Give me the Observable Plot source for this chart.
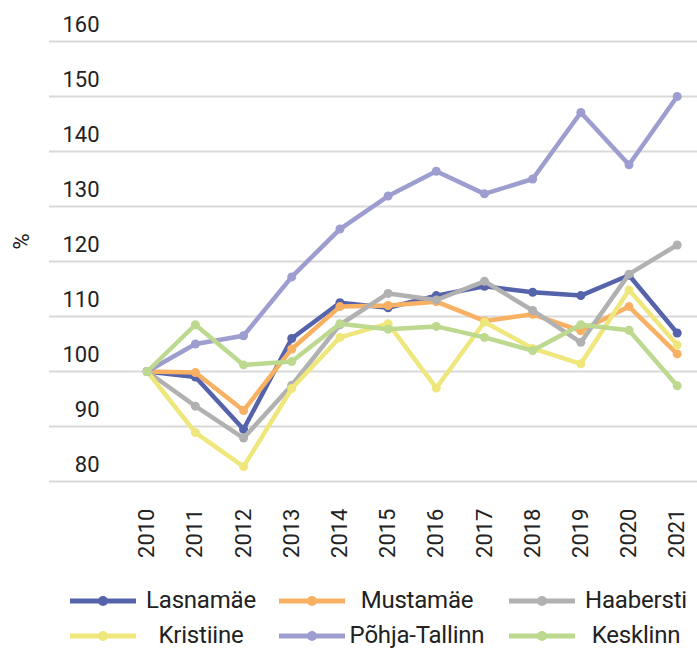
<!DOCTYPE html>
<html>
<head>
<meta charset="utf-8">
<script src="https://cdn.jsdelivr.net/npm/d3@7"></script>
<script src="https://cdn.jsdelivr.net/npm/@observablehq/plot@0.6"></script>
<style>
  html, body { margin: 0; padding: 0; background: #fff; }
  body { width: 697px; height: 648px; overflow: hidden; font-family: Roboto, "Noto Sans", sans-serif; color: #222; }
  #chart svg { display: block; }
  #legend { position: relative; width: 697px; height: 65px; }
  .item { position: absolute; height: 35px; display: flex; align-items: center; }
  .item svg { display: block; flex: none; }
  .item span { display: block; text-align: center; font-size: 24px; line-height: 35px; white-space: nowrap; letter-spacing: -0.2px; }
</style>
</head>
<body>
<div id="chart"></div>
<div id="legend"></div>
<script>
const years = [2010, 2011, 2012, 2013, 2014, 2015, 2016, 2017, 2018, 2019, 2020, 2021];
const seriesNames = ["Lasnamäe", "Mustamäe", "Haabersti", "Kristiine", "Põhja-Tallinn", "Kesklinn"];
const seriesColors = ["#5563ab", "#f8b063", "#b1b1b1", "#efe77b", "#9d9dd0", "#bcd98f"];
const lasnamae   = [100, 99.0, 89.5, 106.0, 112.5, 111.6, 113.8, 115.5, 114.4, 113.8, 117.5, 107.0];
const mustamae   = [100, 99.8, 92.9, 104.1, 111.8, 112.0, 112.7, 109.2, 110.4, 107.4, 111.8, 103.2];
const haabersti  = [100, 93.7, 87.9, 97.5, 108.5, 114.2, 113.0, 116.4, 111.1, 105.3, 117.7, 123.0];
const kristiine  = [100, 88.9, 82.7, 96.9, 106.2, 108.7, 97.0, 109.0, 104.2, 101.4, 114.8, 104.8];
const pohjaTallinn = [100, 105.0, 106.5, 117.2, 125.9, 131.9, 136.4, 132.3, 135.0, 147.1, 137.6, 150.0];
const kesklinn   = [100, 108.5, 101.2, 101.8, 108.7, 107.7, 108.2, 106.2, 103.8, 108.5, 107.5, 97.4];
const yTicks = [80, 90, 100, 110, 120, 130, 140, 150, 160];
const yLabel = "%";

const seriesValues = [lasnamae, mustamae, haabersti, kristiine, pohjaTallinn, kesklinn];
const rows = seriesNames.flatMap((name, i) => years.map((year, j) => ({series: name, year, value: seriesValues[i][j]})));

const perSeriesMarks = seriesNames.flatMap(name => {
  const d = rows.filter(r => r.series === name);
  return [
    Plot.line(d, {x: "year", y: "value", stroke: "series", strokeWidth: 4.5, strokeLinejoin: "round", strokeLinecap: "round"}),
    Plot.dot(d, {x: "year", y: "value", fill: "series", r: 4.5, stroke: "none"})
  ];
});

const chart = Plot.plot({
  width: 697,
  height: 583,
  marginLeft: 49,
  marginRight: 0,
  marginTop: 41,
  marginBottom: 102,
  style: {fontFamily: "Roboto, 'Noto Sans', sans-serif", color: "#222", background: "#fff"},
  x: {type: "linear", domain: [2010, 2021], range: [146.7, 676.7]},
  y: {domain: [80, 160]},
  color: {domain: seriesNames, range: seriesColors},
  marks: [
    Plot.gridY(yTicks, {stroke: "#d9d9d9", strokeOpacity: 1, strokeWidth: 2}),
    Plot.axisY(yTicks, {tickSize: 0, tickPadding: 0, dx: 50, dy: -17, fontSize: 22, fill: "#222", label: null}),
    Plot.axisX(years, {tickFormat: d => String(d), tickRotate: -90, tickSize: 0, tickPadding: 27, fontSize: 22, fill: "#222", label: null}),
    Plot.text([yLabel], {frameAnchor: "left", rotate: -90, dx: -28, dy: -12, fontSize: 22, fill: "#222"}),
    ...perSeriesMarks
  ]
});
document.getElementById("chart").appendChild(chart);

// Legend (below the SVG)
const legend = document.getElementById("legend");
const colLeft = [70, 279, 509];
const colText = [130, 144, 122];
seriesNames.forEach((name, i) => {
  const col = i % 3, row = Math.floor(i / 3);
  const item = document.createElement("div");
  item.className = "item";
  item.style.left = colLeft[col] + "px";
  item.style.top = (row * 35) + "px";
  const ns = "http://www.w3.org/2000/svg";
  const svg = document.createElementNS(ns, "svg");
  svg.setAttribute("width", 66); svg.setAttribute("height", 14);
  const ln = document.createElementNS(ns, "line");
  ln.setAttribute("x1", 0); ln.setAttribute("x2", 66); ln.setAttribute("y1", 7); ln.setAttribute("y2", 7);
  ln.setAttribute("stroke", seriesColors[i]); ln.setAttribute("stroke-width", 5);
  const c = document.createElementNS(ns, "circle");
  c.setAttribute("cx", 33); c.setAttribute("cy", 7); c.setAttribute("r", 5);
  c.setAttribute("fill", seriesColors[i]);
  svg.appendChild(ln); svg.appendChild(c);
  const span = document.createElement("span");
  span.style.width = colText[col] + "px";
  span.textContent = name;
  item.appendChild(svg); item.appendChild(span);
  legend.appendChild(item);
});
</script>
</body>
</html>
